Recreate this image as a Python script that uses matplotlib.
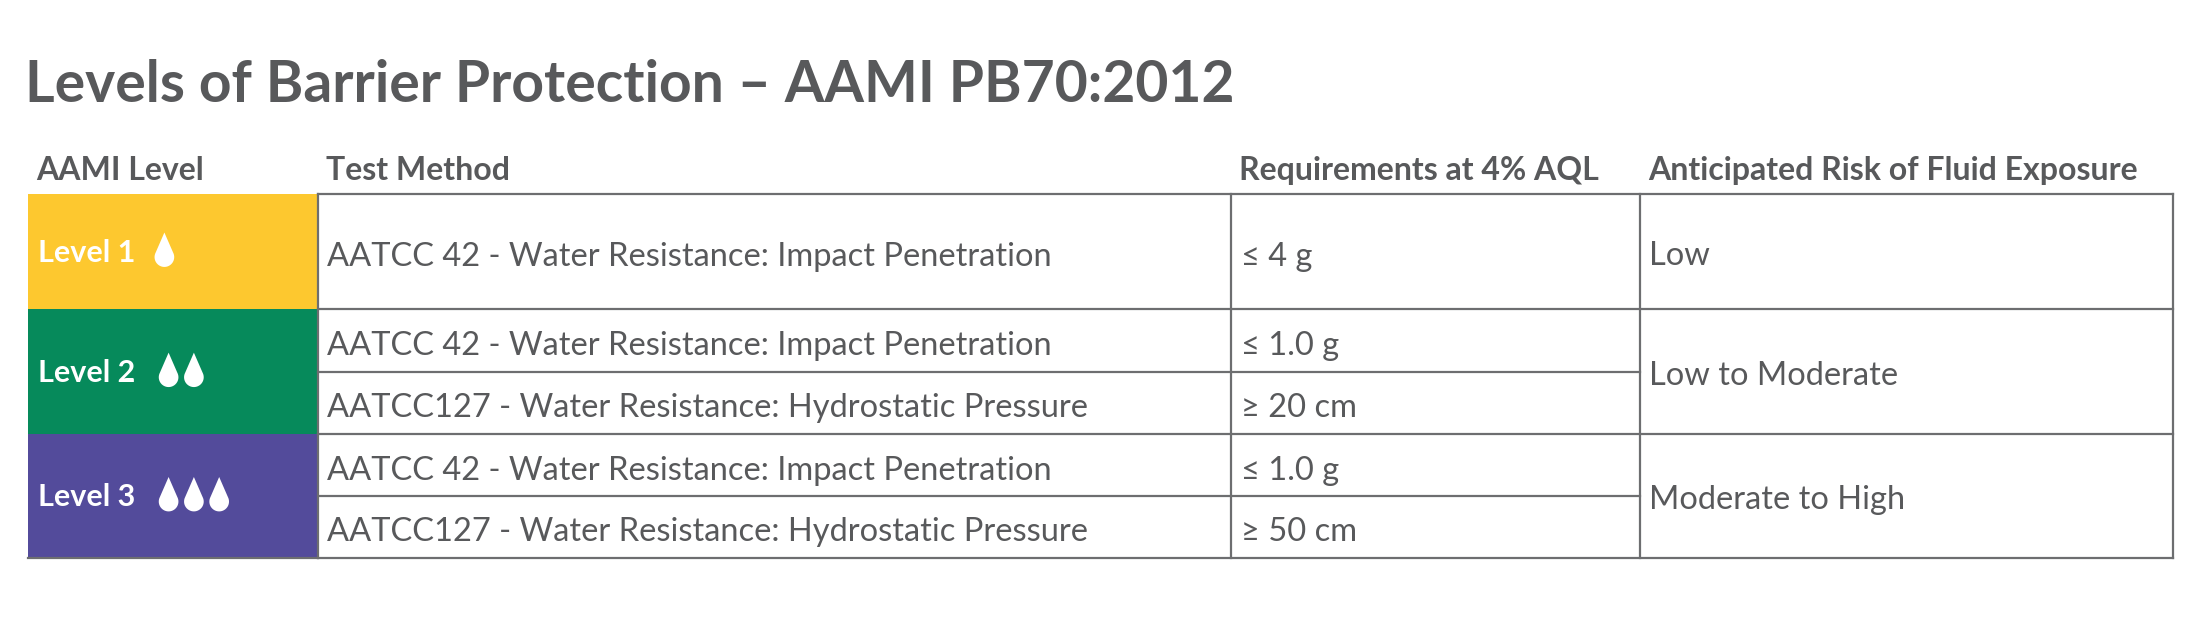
import matplotlib
matplotlib.use("Agg")
import matplotlib.pyplot as plt
import numpy as np
from matplotlib.patches import Rectangle, Polygon

title = "Levels of Barrier Protection – AAMI PB70:2012"
headers = ["AAMI Level", "Test Method", "Requirements at 4% AQL", "Anticipated Risk of Fluid Exposure"]
levels = ["Level 1", "Level 2", "Level 3"]
level_drops = [1, 2, 3]
level_colors = ["#FDC82F", "#068A5B", "#534B9B"]
methods = [["AATCC 42 - Water Resistance: Impact Penetration"],
           ["AATCC 42 - Water Resistance: Impact Penetration",
            "AATCC127 - Water Resistance: Hydrostatic Pressure"],
           ["AATCC 42 - Water Resistance: Impact Penetration",
            "AATCC127 - Water Resistance: Hydrostatic Pressure"]]
reqs = [["≤ 4 g"], ["≤ 1.0 g", "≥ 20 cm"], ["≤ 1.0 g", "≥ 50 cm"]]
risks = ["Low", "Low to Moderate", "Moderate to High"]

GREY = "#58595B"
LINE = "#6D6E70"
FONT = ["Lato", "DejaVu Sans"]

fig = plt.figure(figsize=(22.03, 6.21), dpi=100)
ax = fig.add_axes([0, 0, 1, 1])
ax.set_xlim(0, 1568)
ax.set_ylim(442, 0)
ax.axis("off")

cols = [20, 226, 876, 1167, 1547]
group_top = [138, 220, 309]
group_bot = [220, 309, 397]

ax.text(18, 61, title, fontsize=41, fontweight="bold", color=GREY, family=FONT, va="center")
for i, h in enumerate(headers):
    ax.text(cols[i] + 6, 121, h, fontsize=23, fontweight="bold", color=GREY, family=FONT, va="center")

def drop(cx, cy, r):
    t = np.linspace(np.pi * 1.15, -np.pi * 0.15, 40)
    pts = [(cx, cy - 2.5 * r)] + list(zip(cx + r * np.cos(t), cy + r * np.sin(t)))
    ax.add_patch(Polygon(pts, closed=True, color="white", lw=0))

for g in range(3):
    top, bot = group_top[g], group_bot[g]
    ax.add_patch(Rectangle((cols[0], top), cols[1] - cols[0], bot - top, color=level_colors[g], lw=0))
    mid = (top + bot) / 2
    ax.text(27, mid + 1, levels[g], fontsize=22, fontweight="bold", color="white", family=FONT, va="center")
    x0 = 117 if g == 0 else 120
    for k in range(level_drops[g]):
        drop(x0 + k * 18, mid + 4, 7)
    n = len(methods[g])
    h = (bot - top) / n
    for j in range(n):
        yc = top + h * (j + 0.5) + 4
        ax.text(cols[1] + 7, yc, methods[g][j], fontsize=23.5, color=GREY, family=FONT, va="center")
        ax.text(cols[2] + 7, yc, reqs[g][j], fontsize=23.5, color=GREY, family=FONT, va="center")
        if j > 0:
            ax.plot([cols[1], cols[3]], [top + h * j] * 2, color=LINE, lw=1.6)
    ax.text(cols[3] + 7, mid + 3, risks[g], fontsize=23.5, color=GREY, family=FONT, va="center")
    ax.plot([cols[1], cols[4]], [bot, bot], color=LINE, lw=1.6)

ax.plot([cols[1], cols[4]], [138, 138], color=LINE, lw=1.6)
ax.plot([cols[0], cols[1]], [397, 397], color=LINE, lw=1.6)
for c in cols[1:]:
    ax.plot([c, c], [138, 397], color=LINE, lw=1.6)

fig.savefig("out.png", dpi=100)
